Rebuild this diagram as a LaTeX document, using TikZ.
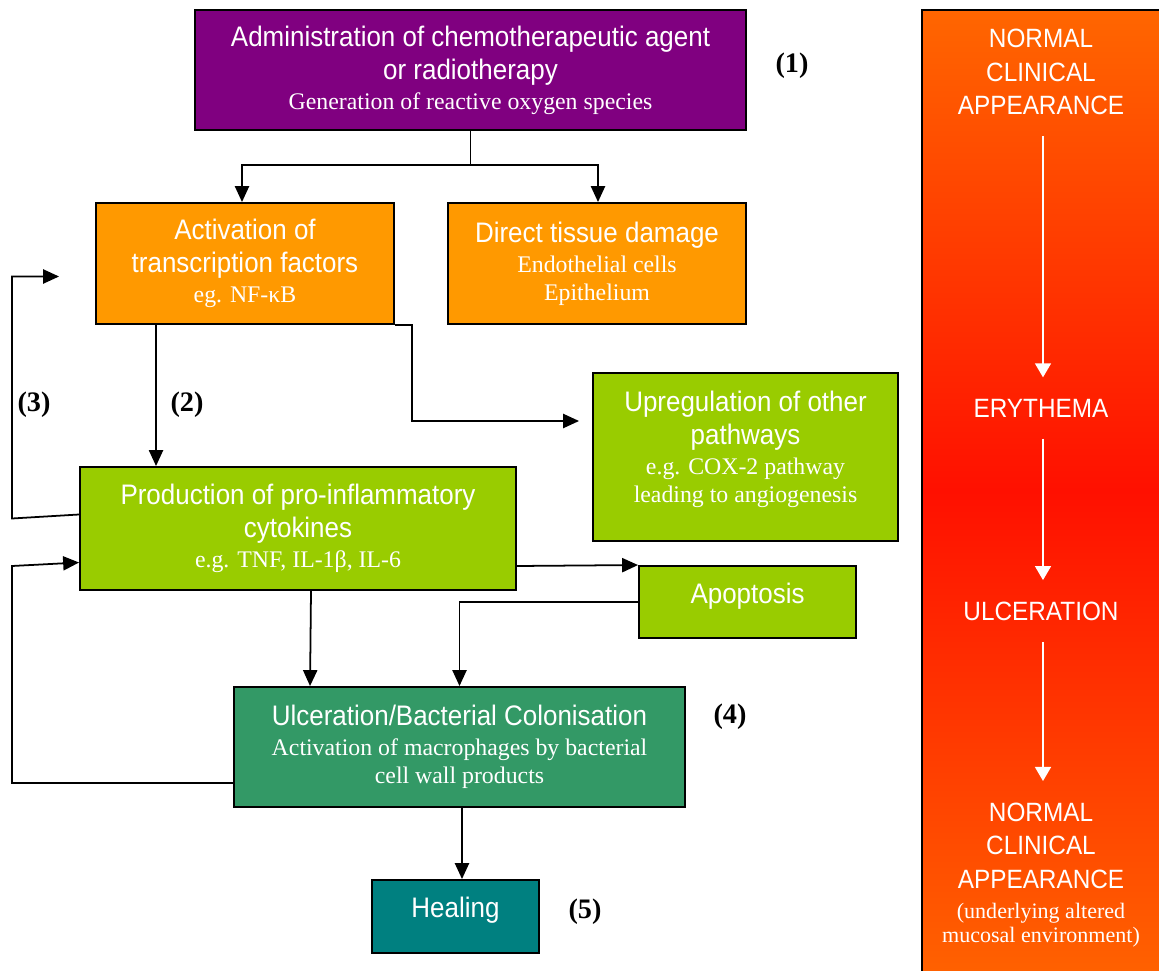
\documentclass[tikz,border=0pt]{standalone}
\usepackage{fontspec}
\setmainfont{Liberation Serif}
\newfontfamily\narrowsans[FakeStretch=0.92]{Liberation Sans}
\usetikzlibrary{calc}
\usetikzlibrary{arrows.meta}

\definecolor{boxpurple}{HTML}{800080}
\definecolor{boxorange}{HTML}{FF9900}
\definecolor{boxlime}{HTML}{99CC00}
\definecolor{boxgreen}{HTML}{339966}
\definecolor{boxteal}{HTML}{008080}
\definecolor{barorange}{HTML}{FF6600}
\definecolor{barred}{HTML}{FF1000}

\newcommand{\px}{0.567pt}
\newcommand{\headtxt}{\fontsize{16}{16}\narrowsans}
\newcommand{\subtxt}{\fontsize{12.5}{14}\rmfamily}

\begin{document}
\begin{tikzpicture}[x=0.567pt, y=-0.567pt]
            \tikzstyle{stage} = [draw=black, line width=1.1pt, text=white, align=center, inner sep=0pt, font=\fontsize{13.5}{16}\selectfont]
            \tikzstyle{link} = [line width=1pt, -{Triangle[length=9pt, width=8pt]}]
            \tikzstyle{tag} = [font=\fontsize{16}{16}\selectfont\bfseries]
            \tikzstyle{phase} = [text=white, align=center, inner sep=0pt, font=\fontsize{15}{19}\narrowsans]
            \tikzstyle{course} = [draw=white, line width=1.2pt, -{Triangle[length=8pt, width=9pt]}, shorten <=12pt, shorten >=12pt]
            \useasboundingbox (0,0) rectangle (1159,971);
            % left: the chain of events
            \node[stage, fill=boxpurple, minimum width=551*\px, minimum height=120*\px] (admin) at (470.5,70)
                {{\headtxt Administration of chemotherapeutic agent}\\[2.7pt]{\headtxt or radiotherapy}\\[1pt]Generation of reactive oxygen species};
            \node[stage, fill=boxorange, minimum width=298*\px, minimum height=121*\px] (activ) at (245,263.5)
                {{\headtxt Activation of}\\[2.7pt]{\headtxt transcription factors}\\[1pt]eg. NF-κB};
            \node[stage, fill=boxorange, minimum width=298*\px, minimum height=121*\px] (direct) at (597,263.5)
                {{\headtxt Direct tissue damage}\\[1pt]Endothelial cells\\Epithelium};
            \node[stage, fill=boxlime, minimum width=305*\px, minimum height=168*\px] (upreg) at (745.5,457)
                {{\headtxt Upregulation of other}\\[2.7pt]{\headtxt pathways}\\[1pt]e.g. COX-2 pathway\\leading to angiogenesis\\[-4pt]};
            \node[stage, fill=boxlime, minimum width=436*\px, minimum height=123*\px] (prod) at (298,528.5)
                {{\headtxt Production of pro-inflammatory}\\[2.7pt]{\headtxt cytokines}\\[1pt]e.g. TNF, IL-1β, IL-6};
            \node[stage, fill=boxlime, minimum width=217*\px, minimum height=72*\px] (apop) at (747.5,602)
                {{\headtxt Apoptosis}\\[-6pt]};
            \node[stage, fill=boxgreen, minimum width=451*\px, minimum height=120*\px] (ulcer) at (459.5,747)
                {{\headtxt Ulceration/Bacterial Colonisation}\\[1pt]Activation of macrophages by bacterial\\cell wall products};
            \node[stage, fill=boxteal, minimum width=167*\px, minimum height=73*\px] (heal) at (455.5,916.5)
                {{\headtxt Healing}\\[-6pt]};
            \node[tag] (tag1) at (792,66) {(1)};
            \node[tag] (tag2) at (187,405) {(2)};
            \node[tag] (tag3) at (34,405) {(3)};
            \node[tag] (tag4) at (730,717) {(4)};
            \node[tag] (tag5) at (585,912) {(5)};
            \coordinate (fork) at (470.5,165);
            \draw[line width=1pt] (admin.south) -- (fork);
            \draw[link] (fork) -| ($(activ.north)+(-3,0)$);
            \draw[link] (fork) -| ($(direct.north)+(1,0)$);
            \draw[link] ($(activ.south west)+(61,0)$) -- ($(prod.north west)+(77,0)$);
            \draw[link] (activ.south east) -- ++(17,0) |- ($(upreg.west)+(-13,-36)$);
            \draw[link] ($(prod.west)+(0,-14)$) -- ++(-67,4) |- ($(activ.west)+(-36,13)$);
            \draw[link] ($(ulcer.west)+(0,36)$) -- ++(-221,0) -- ++(0,-217) -- ($(prod.west)+(0,34)$);
            \draw[link] ($(prod.east)+(0,37.5)$) -- (apop.north west);
            \draw[link] ($(prod.south)+(13,0)$) -- ($(ulcer.north west)+(77,0)$);
            \draw[link] (apop.west) -| (ulcer.north);
            \draw[link] ($(ulcer.south)+(2.5,0)$) -- ($(heal.north)+(6.5,0)$);
            % right: the clinical course
            \shade[top color=barorange, bottom color=barorange!95!red, middle color=barred] (922,10) rectangle (1159,971);
            \draw[line width=1.1pt] (922,971) -- (922,10) -- (1159,10);
            \node[phase] (normal) at (1041,72) {NORMAL\\CLINICAL\\APPEARANCE};
            \node[phase] (erythema) at (1041,408) {ERYTHEMA};
            \node[phase] (ulceration) at (1041,611) {ULCERATION};
            \node[phase] (restored) at (1041,875)
                {NORMAL\\CLINICAL\\APPEARANCE\\[-2pt]{\subtxt (underlying altered}\\[-5pt]{\subtxt mucosal environment)}};
            \draw[course] ($(normal.south)+(2,0)$) -- ($(erythema.north)+(2,0)$);
            \draw[course] ($(erythema.south)+(2,0)$) -- ($(ulceration.north)+(2,0)$);
            \draw[course] ($(ulceration.south)+(2,0)$) -- ($(restored.north)+(2,0)$);
        \end{tikzpicture}
\end{document}
